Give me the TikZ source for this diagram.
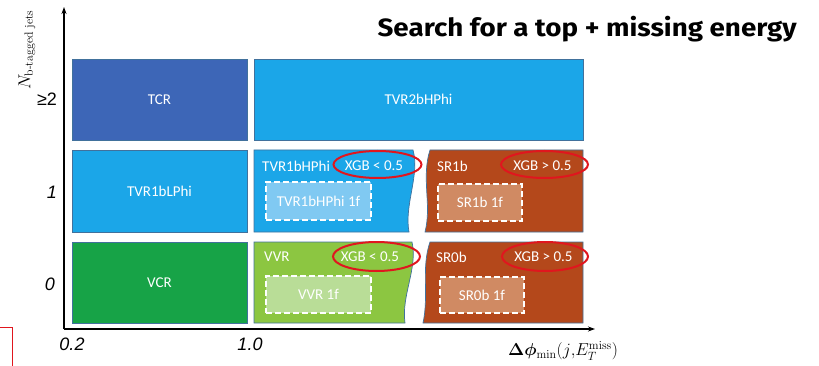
\documentclass[tikz,border=0pt]{standalone}
\usepackage{amsmath}
\usepackage{bm}
\usepackage[no-math]{fontspec}
\newfontfamily\carl{Carlito}
\newfontfamily\arialf{Liberation Sans}
\newfontfamily\titlef{Fira Sans}
\usetikzlibrary{shapes.geometric,arrows.meta}
\definecolor{tcrc}{HTML}{3D66B7}
\definecolor{lblue}{HTML}{1BA6E8}
\definecolor{vcrc}{HTML}{17A347}
\definecolor{lgreen}{HTML}{8CC641}
\definecolor{brown}{HTML}{B4481B}
\definecolor{ilblue}{HTML}{80C9F2}
\definecolor{ibrown}{HTML}{D08A63}
\definecolor{igreen}{HTML}{B9DD97}
\definecolor{bordc}{HTML}{41719C}
\definecolor{redc}{HTML}{E0161E}
\begin{document}
\begin{tikzpicture}[x=1pt,y=-1pt,
  region/.style={draw=bordc, line width=0.7pt},
  box/.style={region, text=white, font=\carl\fontsize{15}{15}\selectfont, inner sep=0pt},
  lbl/.style={text=white, font=\carl\fontsize{15}{15}\selectfont, inner sep=0pt},
  dbox/.style={draw=white, dash pattern=on 6pt off 3pt, line width=2pt, text=white, font=\carl\fontsize{15}{15}\selectfont, inner sep=0pt},
  oval/.style={ellipse, draw=redc, line width=2pt, inner sep=0pt},
  axis/.style={line width=1.3pt, -{Stealth[length=7pt,width=5pt]}},
  num/.style={font=\arialf\itshape\fontsize{18}{18}\selectfont, inner sep=0pt}
]
\useasboundingbox (0,0) rectangle (819,366);

% title
\node[anchor=base east, inner sep=0pt, xscale=1.11, font=\titlef\bfseries\fontsize{25}{25}\selectfont] (title) at (797,37) {Search for a top + missing energy};

% row 2
\node[box, fill=tcrc, minimum width=175, minimum height=81] (tcr) at (159.5,99.5) {TCR};
\node[box, fill=lblue, minimum width=329, minimum height=81] (tvr2) at (418.5,99.5) {TVR2bHPhi};

% row 1
\node[box, fill=lblue, minimum width=175, minimum height=82] (tvr1l) at (159.5,191) {TVR1bLPhi};
\path[region, fill=lblue] (254,150) -- (413,150) .. controls (420,175) and (404,205) .. (409,232) -- (254,232) -- cycle;
\path[region, fill=brown] (430,150) -- (583,150) -- (583,232) -- (425,232) .. controls (432,205) and (421,178) .. (430,150) -- cycle;

% row 0
\node[box, fill=vcrc, minimum width=175, minimum height=81] (vcr) at (159.5,282.5) {VCR};
\path[region, fill=lgreen] (254,242) -- (412,242) .. controls (418,268) and (401,296) .. (405,323) -- (254,323) -- cycle;
\path[region, fill=brown] (430,242) -- (583,242) -- (583,323) -- (423,323) .. controls (429,296) and (421,268) .. (430,242) -- cycle;

% labels row 1
\node[lbl, anchor=west] (tvr1h) at (262,166) {TVR1bHPhi};
\node[lbl] (xgb1a) at (374,166) {XGB < 0.5};
\node[oval, minimum width=88, minimum height=27] (o1a) at (377.5,164.5) {};
\node[lbl, anchor=west] (sr1b) at (437,166) {SR1b};
\node[lbl] (xgb1b) at (542.5,166) {XGB > 0.5};
\node[oval, minimum width=87, minimum height=27] (o1b) at (544.5,164.5) {};
\node[dbox, fill=ilblue, minimum width=105, minimum height=38] (tvr1hf) at (318.5,201) {TVR1bHPhi 1f};
\node[dbox, fill=ibrown, minimum width=84, minimum height=37] (sr1bf) at (480,202.5) {SR1b 1f};

% labels row 0
\node[lbl, anchor=west] (vvr) at (264,257) {VVR};
\node[lbl] (xgb0a) at (370,257) {XGB < 0.5};
\node[oval, minimum width=87, minimum height=29] (o0a) at (376.5,256.5) {};
\node[lbl, anchor=west] (sr0b) at (436,257) {SR0b};
\node[lbl] (xgb0b) at (543.5,257) {XGB > 0.5};
\node[oval, minimum width=86, minimum height=29] (o0b) at (545,256.5) {};
\node[dbox, fill=igreen, minimum width=105, minimum height=37] (vvrf) at (318.5,294.5) {VVR 1f};
\node[dbox, fill=ibrown, minimum width=84, minimum height=36] (sr0bf) at (482,295) {SR0b 1f};

% axes
\coordinate (O) at (64,329);
\coordinate (ytip) at (64,7);
\coordinate (xtip) at (595,329);
\draw[axis] (O) -- (ytip);
\draw[axis] (O) -- (xtip);

% axis labels
\node[rotate=90, inner sep=0pt, font=\fontsize{17}{17}\selectfont] (ylab) at (27,50) {$N_{\text{b-tagged jets}}$};
\node[inner sep=0pt, font=\arialf\fontsize{18}{18}\selectfont] (ge2) at (47,99) {≥2};
\node[num] (n1) at (52,192) {1};
\node[num] (n0) at (50,284) {0};
\node[num] (x02) at (72,344) {0.2};
\node[num] (x10) at (250,344) {1.0};
\node[inner sep=0pt, font=\fontsize{17}{17}\selectfont] (xlab) at (563,351) {$\bm{\Delta\phi}_{\min}(j{,}E_T^{\mathrm{miss}})$};

% red fragment
\coordinate (r1) at (0,327.5);
\coordinate (r2) at (12.5,327.5);
\coordinate (r3) at (12.5,366);
\draw[redc, line width=1.5pt] (r1) -- (r2) -- (r3);
\end{tikzpicture}
\end{document}
